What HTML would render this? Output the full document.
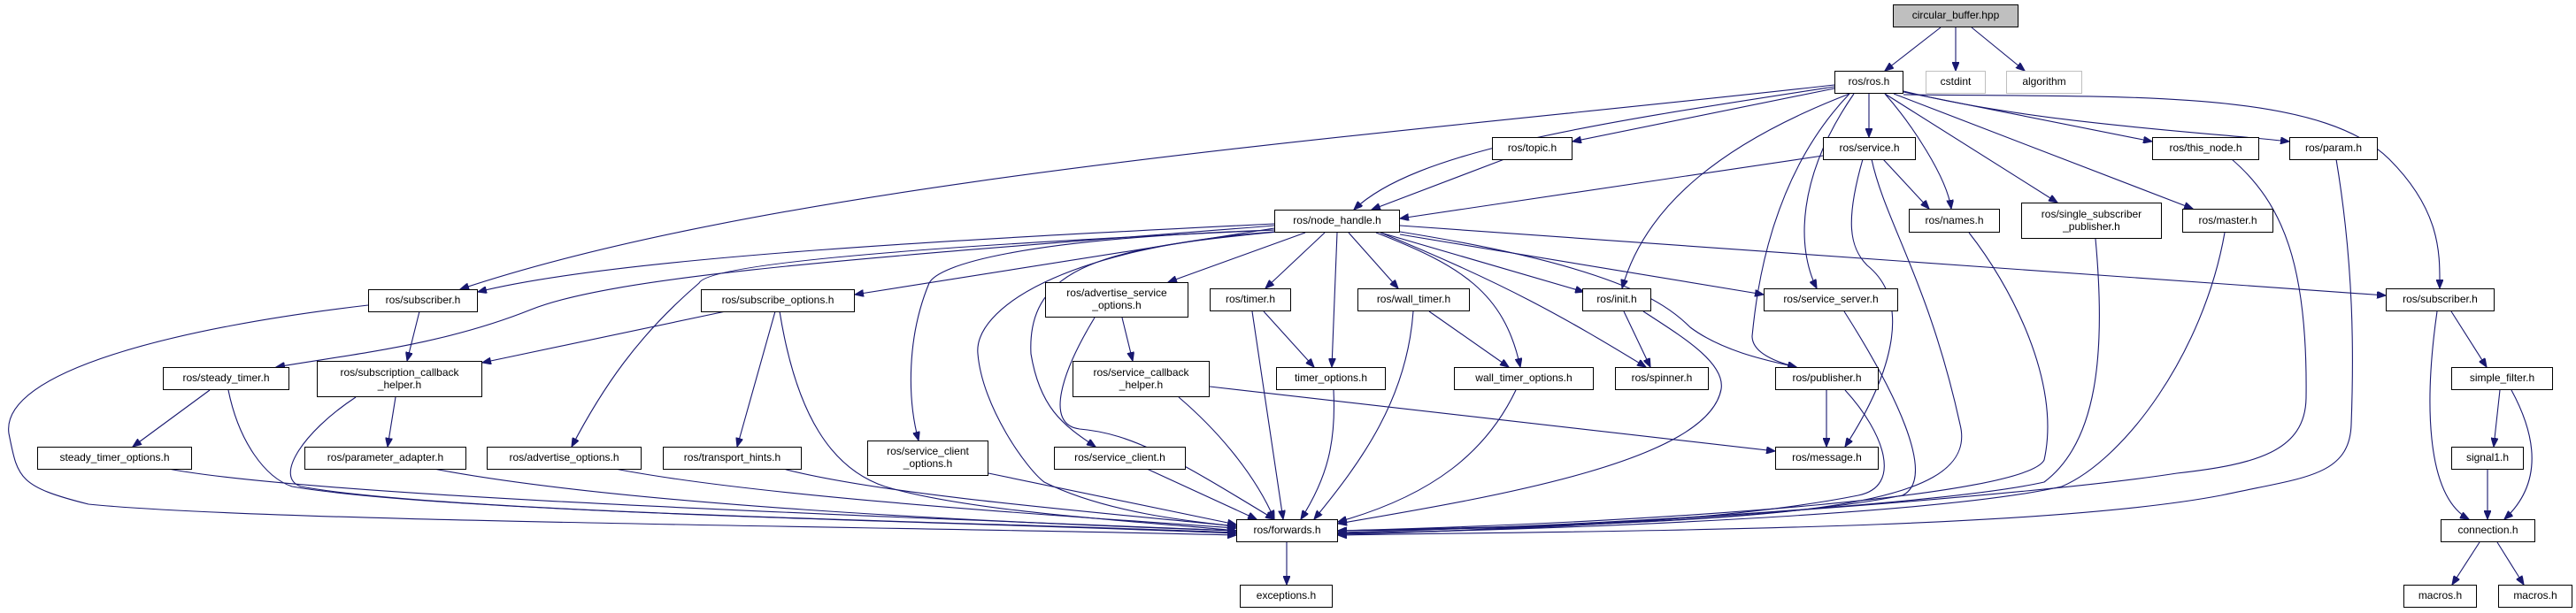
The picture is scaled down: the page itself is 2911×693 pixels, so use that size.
<!DOCTYPE html>
<html><head><meta charset="utf-8"><style>
html,body{margin:0;padding:0;background:#fff;width:2911px;height:693px;overflow:hidden;position:relative}
.n{position:absolute;box-sizing:border-box;border:1px solid #000;background:#fff;font:12px/1.15 "Liberation Sans",sans-serif;color:#000;display:flex;align-items:center;justify-content:center;text-align:center;white-space:pre}
.g{border-color:#bfbfbf}
.r{background:#bfbfbf}
svg{position:absolute;left:0;top:0}
path{fill:none;stroke:#191970;stroke-width:1.1}
</style></head><body>
<svg width="2911" height="693" viewBox="0 0 2911 693">
<defs><marker id="a" markerWidth="11" markerHeight="8" refX="10" refY="4" orient="auto" markerUnits="userSpaceOnUse"><path d="M0,0 L10,4 L0,8 Z" style="fill:#191970;stroke:#191970"/></marker></defs>
<g marker-end="url(#a)">
<path d="M2193,31 L2130,80"/><path d="M2210,31 L2210,80"/><path d="M2228,31 L2288,80"/>
<path d="M2073,96 C1600,150 900,200 520,327"/>
<path d="M2073,98 C1800,140 1600,170 1530,237"/>
<path d="M2073,100 L1777,160"/>
<path d="M2112,106 L2112,155"/>
<path d="M2130,106 C2160,140 2200,200 2205,236"/>
<path d="M2090,106 C1950,160 1860,230 1833,326"/>
<path d="M2090,106 C2000,200 1985,330 1980,380 C1980,400 2010,410 2030,415"/>
<path d="M2095,106 C2030,200 2030,280 2053,326"/>
<path d="M2130,106 L2325,229"/>
<path d="M2140,106 L2478,236"/>
<path d="M2151,104 L2432,160"/>
<path d="M2151,103 C2300,140 2500,150 2587,160"/>
<path d="M2151,107 C2400,110 2620,100 2700,180 C2760,240 2757,290 2757,326"/>
<path d="M2060,176 L1582,247"/>
<path d="M2128,180 L2180,236"/>
<path d="M2105,180 C2085,250 2090,280 2110,300 C2160,340 2140,420 2085,505"/>
<path d="M2115,180 C2130,250 2180,320 2215,480 C2240,580 2000,590 1512,600"/>
<path d="M1700,180 L1550,237"/>
<path d="M1440,253 C1100,270 700,290 540,330"/>
<path d="M1440,255 C1000,290 700,310 600,350 C500,390 400,400 312,415"/>
<path d="M1440,258 L966,333"/>
<path d="M1440,260 C1000,280 800,300 790,320 C720,380 680,440 646,505"/>
<path d="M1440,260 C1150,270 1060,300 1050,320 C1025,380 1025,450 1038,498"/>
<path d="M1440,262 C1200,280 1100,350 1105,400 C1110,460 1160,530 1180,545 C1250,580 1350,590 1397,595"/>
<path d="M1445,262 C1250,280 1160,300 1165,400 C1175,460 1200,480 1238,505"/>
<path d="M1475,263 L1320,319"/>
<path d="M1497,263 L1430,326"/>
<path d="M1511,263 L1505,415"/>
<path d="M1524,263 L1580,326"/>
<path d="M1555,263 C1650,300 1700,330 1718,415"/>
<path d="M1560,263 C1700,320 1770,360 1860,415"/>
<path d="M1560,263 L1790,330"/>
<path d="M1582,265 L1993,333"/>
<path d="M1582,262 C1820,300 1880,340 1910,370 C1950,400 2010,410 2030,415"/>
<path d="M1582,255 L2696,334"/>
<path d="M474,352 L460,408"/>
<path d="M416,345 C200,370 0,420 10,490 C20,540 20,550 100,570 C300,590 1000,595 1397,605"/>
<path d="M820,352 L545,410"/>
<path d="M876,352 L833,505"/>
<path d="M881,352 C900,470 940,530 1000,550 C1100,580 1300,590 1397,600"/>
<path d="M237,441 L150,505"/>
<path d="M258,441 C270,500 300,540 330,550 C500,580 1100,590 1397,603"/>
<path d="M447,449 L438,505"/>
<path d="M402,449 C340,490 310,540 340,550 C500,580 1100,590 1397,602"/>
<path d="M190,530 C350,560 900,580 1397,600"/>
<path d="M490,530 C700,570 1100,590 1397,600"/>
<path d="M695,530 C850,560 1150,580 1397,597"/>
<path d="M885,530 C1000,560 1250,580 1397,595"/>
<path d="M1117,535 L1397,593"/>
<path d="M1296,530 L1420,587"/>
<path d="M1268,359 L1280,408"/>
<path d="M1237,359 C1200,420 1180,480 1220,485 C1280,490 1330,520 1440,587"/>
<path d="M1332,449 C1380,490 1420,540 1440,587"/>
<path d="M1367,437 L2006,510"/>
<path d="M1428,352 L1485,415"/>
<path d="M1415,352 L1450,587"/>
<path d="M1507,441 C1510,500 1500,540 1470,587"/>
<path d="M1615,352 L1705,415"/>
<path d="M1597,352 C1590,450 1540,520 1485,587"/>
<path d="M1713,441 C1680,510 1620,560 1512,590"/>
<path d="M1835,352 L1865,415"/>
<path d="M1857,352 C1900,380 1950,410 1945,440 C1930,520 1700,560 1512,592"/>
<path d="M2084,352 C2140,440 2190,540 2150,560 C2000,590 1700,598 1512,600"/>
<path d="M2064,441 L2064,505"/>
<path d="M2085,441 C2130,490 2150,550 2100,560 C1950,590 1700,600 1512,603"/>
<path d="M2225,263 C2270,320 2330,430 2310,520 C2290,560 1900,590 1512,600"/>
<path d="M2368,270 C2380,400 2370,500 2310,545 C2200,570 1800,595 1512,602"/>
<path d="M2514,263 C2490,400 2400,520 2330,550 C2200,580 1800,598 1512,603"/>
<path d="M2522,180 C2580,230 2608,300 2606,450 C2605,510 2550,525 2460,535 C2300,560 1800,598 1512,604"/>
<path d="M2640,180 C2660,300 2660,400 2657,480 C2655,540 2600,540 2510,560 C2300,600 1800,600 1512,605"/>
<path d="M2770,352 L2810,415"/>
<path d="M2754,352 C2740,450 2740,560 2790,587"/>
<path d="M2825,441 L2818,505"/>
<path d="M2838,441 C2870,500 2870,550 2830,587"/>
<path d="M2811,530 L2811,587"/>
<path d="M2802,613 L2771,661"/>
<path d="M2822,613 L2852,661"/>
<path d="M1454,613 L1454,661"/>
</g></svg>
<div class="n r" style="left:2139px;top:5px;width:142px;height:26px">circular_buffer.hpp</div>
<div class="n" style="left:2073px;top:80px;width:78px;height:26px">ros/ros.h</div>
<div class="n g" style="left:2176px;top:80px;width:68px;height:26px">cstdint</div>
<div class="n g" style="left:2267px;top:80px;width:86px;height:26px">algorithm</div>
<div class="n" style="left:2060px;top:155px;width:105px;height:26px">ros/service.h</div>
<div class="n" style="left:2432px;top:155px;width:121px;height:26px">ros/this_node.h</div>
<div class="n" style="left:2587px;top:155px;width:100px;height:26px">ros/param.h</div>
<div class="n" style="left:1686px;top:155px;width:91px;height:26px">ros/topic.h</div>
<div class="n" style="left:1440px;top:237px;width:142px;height:26px">ros/node_handle.h</div>
<div class="n" style="left:2157px;top:236px;width:103px;height:27px">ros/names.h</div>
<div class="n" style="left:2284px;top:229px;width:159px;height:41px">ros/single_subscriber
_publisher.h</div>
<div class="n" style="left:2466px;top:236px;width:103px;height:27px">ros/master.h</div>
<div class="n" style="left:416px;top:327px;width:124px;height:26px">ros/subscriber.h</div>
<div class="n" style="left:792px;top:327px;width:174px;height:26px">ros/subscribe_options.h</div>
<div class="n" style="left:1181px;top:319px;width:162px;height:40px">ros/advertise_service
_options.h</div>
<div class="n" style="left:1367px;top:326px;width:92px;height:26px">ros/timer.h</div>
<div class="n" style="left:1534px;top:326px;width:127px;height:26px">ros/wall_timer.h</div>
<div class="n" style="left:1788px;top:326px;width:78px;height:26px">ros/init.h</div>
<div class="n" style="left:1993px;top:326px;width:152px;height:26px">ros/service_server.h</div>
<div class="n" style="left:2696px;top:326px;width:123px;height:26px">ros/subscriber.h</div>
<div class="n" style="left:184px;top:415px;width:143px;height:26px">ros/steady_timer.h</div>
<div class="n" style="left:358px;top:408px;width:187px;height:41px">ros/subscription_callback
_helper.h</div>
<div class="n" style="left:1212px;top:408px;width:155px;height:41px">ros/service_callback
_helper.h</div>
<div class="n" style="left:1442px;top:415px;width:124px;height:26px">timer_options.h</div>
<div class="n" style="left:1643px;top:415px;width:158px;height:26px">wall_timer_options.h</div>
<div class="n" style="left:1825px;top:415px;width:106px;height:26px">ros/spinner.h</div>
<div class="n" style="left:2006px;top:415px;width:117px;height:26px">ros/publisher.h</div>
<div class="n" style="left:2770px;top:415px;width:115px;height:26px">simple_filter.h</div>
<div class="n" style="left:42px;top:505px;width:175px;height:26px">steady_timer_options.h</div>
<div class="n" style="left:344px;top:505px;width:183px;height:26px">ros/parameter_adapter.h</div>
<div class="n" style="left:550px;top:505px;width:175px;height:26px">ros/advertise_options.h</div>
<div class="n" style="left:749px;top:505px;width:157px;height:26px">ros/transport_hints.h</div>
<div class="n" style="left:980px;top:498px;width:137px;height:40px">ros/service_client
_options.h</div>
<div class="n" style="left:1191px;top:505px;width:149px;height:26px">ros/service_client.h</div>
<div class="n" style="left:2006px;top:505px;width:117px;height:26px">ros/message.h</div>
<div class="n" style="left:2770px;top:505px;width:82px;height:26px">signal1.h</div>
<div class="n" style="left:1397px;top:587px;width:115px;height:26px">ros/forwards.h</div>
<div class="n" style="left:2758px;top:587px;width:107px;height:26px">connection.h</div>
<div class="n" style="left:1401px;top:661px;width:105px;height:26px">exceptions.h</div>
<div class="n" style="left:2716px;top:661px;width:83px;height:26px">macros.h</div>
<div class="n" style="left:2823px;top:661px;width:84px;height:26px">macros.h</div>
</body></html>
